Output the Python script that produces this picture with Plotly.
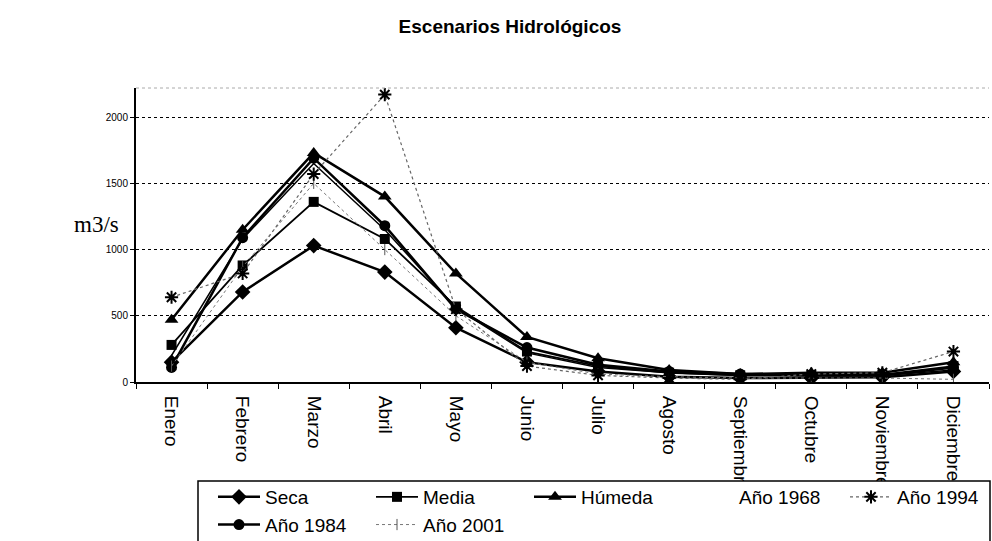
import plotly.graph_objects as go

months = ["Enero", "Febrero", "Marzo", "Abril", "Mayo", "Junio", "Julio",
          "Agosto", "Septiembre", "Octubre", "Noviembre", "Diciembre"]

seca = [150, 680, 1030, 830, 410, 150, 80, 40, 30, 30, 35, 80]
media = [280, 880, 1360, 1080, 570, 230, 120, 70, 50, 50, 55, 120]
humeda = [470, 1150, 1730, 1400, 820, 340, 180, 90, 60, 70, 70, 150]
a1968 = [200, 1080, 1650, 1150, 560, 220, 110, 70, 50, 50, 50, 90]
a1994 = [640, 820, 1570, 2170, 550, 120, 50, 30, 20, 60, 70, 230]
a1984 = [110, 1090, 1690, 1180, 550, 260, 130, 80, 60, 50, 50, 110]
a2001 = [120, 870, 1500, 1000, 500, 150, 60, 40, 30, 30, 30, 20]

yticks = [0, 500, 1000, 1500, 2000]

W, H = 992, 541
ML, MR, MT, MB = 136, 3, 88, 159
PW, PH = W - ML - MR, H - MT - MB


def px_x(x):
    return (x - ML) / PW


def px_y(y):
    return (H - MB - y) / PH


fig = go.Figure()

common = dict(x=months, mode="lines+markers")

fig.add_trace(go.Scatter(y=seca, name="Seca", legend="legend",
                         line=dict(color="black", width=2.5),
                         marker=dict(symbol="diamond", size=12, color="black"), **common))
fig.add_trace(go.Scatter(y=a1984, name="Año 1984", legend="legend",
                         line=dict(color="black", width=2.5),
                         marker=dict(symbol="circle", size=11, color="black"), **common))
fig.add_trace(go.Scatter(y=media, name="Media", legend="legend2",
                         line=dict(color="black", width=1.8),
                         marker=dict(symbol="square", size=10, color="black"), **common))
fig.add_trace(go.Scatter(y=a2001, name="Año 2001", legend="legend2",
                         line=dict(color="#777777", width=1, dash="dot"),
                         marker=dict(symbol="line-ns-open", size=8, color="#555555",
                                     line=dict(width=1, color="#555555")), **common))
fig.add_trace(go.Scatter(y=humeda, name="Húmeda", legend="legend3",
                         line=dict(color="black", width=2.5),
                         marker=dict(symbol="triangle-up", size=12, color="black"), **common))
fig.add_trace(go.Scatter(y=a1968, name="Año 1968", legend="legend4", showlegend=False,
                         line=dict(color="black", width=1.5), mode="lines", x=months))
fig.add_trace(go.Scatter(x=[None], y=[None], name="Año 1968", legend="legend4",
                         mode="lines", line=dict(color="rgba(0,0,0,0)", width=1)))
fig.add_trace(go.Scatter(y=a1994, name="Año 1994", legend="legend5",
                         line=dict(color="#666666", width=1.2, dash="dot"),
                         marker=dict(symbol="asterisk-open", size=11, color="black",
                                     line=dict(width=2, color="black")), **common))

lfont = dict(family="Liberation Sans, Arial", size=19, color="black")
leg_common = dict(orientation="v", bgcolor="rgba(0,0,0,0)", font=lfont,
                  yanchor="top", xanchor="left", itemwidth=42, tracegroupgap=0)
ytop = px_y(478)
fig.update_layout(
    legend=dict(x=px_x(213), y=ytop, **leg_common),
    legend2=dict(x=px_x(371), y=ytop, **leg_common),
    legend3=dict(x=px_x(529), y=ytop, **leg_common),
    legend4=dict(x=px_x(687), y=ytop, **leg_common),
    legend5=dict(x=px_x(845), y=ytop, **leg_common),
)

fig.add_shape(type="rect", xref="paper", yref="paper",
              x0=px_x(198), x1=px_x(990), y0=px_y(481), y1=px_y(545),
              fillcolor="white", line=dict(color="black", width=1.5), layer="above")

fig.update_layout(
    width=W, height=H,
    margin=dict(l=ML, r=MR, t=MT, b=MB, autoexpand=False),
    paper_bgcolor="white", plot_bgcolor="white",
    showlegend=True,
    title=dict(text="<b>Escenarios Hidrológicos</b>", x=510 / W, xanchor="center",
               y=1 - 26 / H, yanchor="middle",
               font=dict(family="Liberation Sans, Arial", size=19, color="black")),
    xaxis=dict(type="category", tickson="boundaries", ticks="outside", ticklen=5,
               tickcolor="black", showline=True, linecolor="black", linewidth=2,
               showgrid=False, tickangle=90, ticklabelstandoff=8,
               tickfont=dict(family="Liberation Sans, Arial", size=19, color="black"),
               range=[-0.5, 11.5]),
    yaxis=dict(range=[0, 2220], tickvals=yticks, ticktext=[str(v) for v in yticks],
               showline=True, linecolor="black", linewidth=2, ticks="outside",
               ticklen=4, tickcolor="black",
               showgrid=True, gridcolor="black", griddash="dot", gridwidth=1,
               zeroline=False,
               tickfont=dict(family="Liberation Sans, Arial", size=10, color="black")),
)

# top border of plot area
fig.add_shape(type="line", xref="paper", yref="paper", x0=0, x1=1, y0=1, y1=1,
              line=dict(color="#aaaaaa", width=1, dash="dot"))

fig.add_annotation(text="m3/s", xref="paper", yref="paper", x=px_x(96), y=px_y(224),
                   showarrow=False, xanchor="center", yanchor="middle",
                   font=dict(family="Liberation Serif, Times New Roman", size=23, color="black"))

fig.write_html("out.html", config={"displayModeBar": False},
               post_script="document.body.style.margin='0px';")
